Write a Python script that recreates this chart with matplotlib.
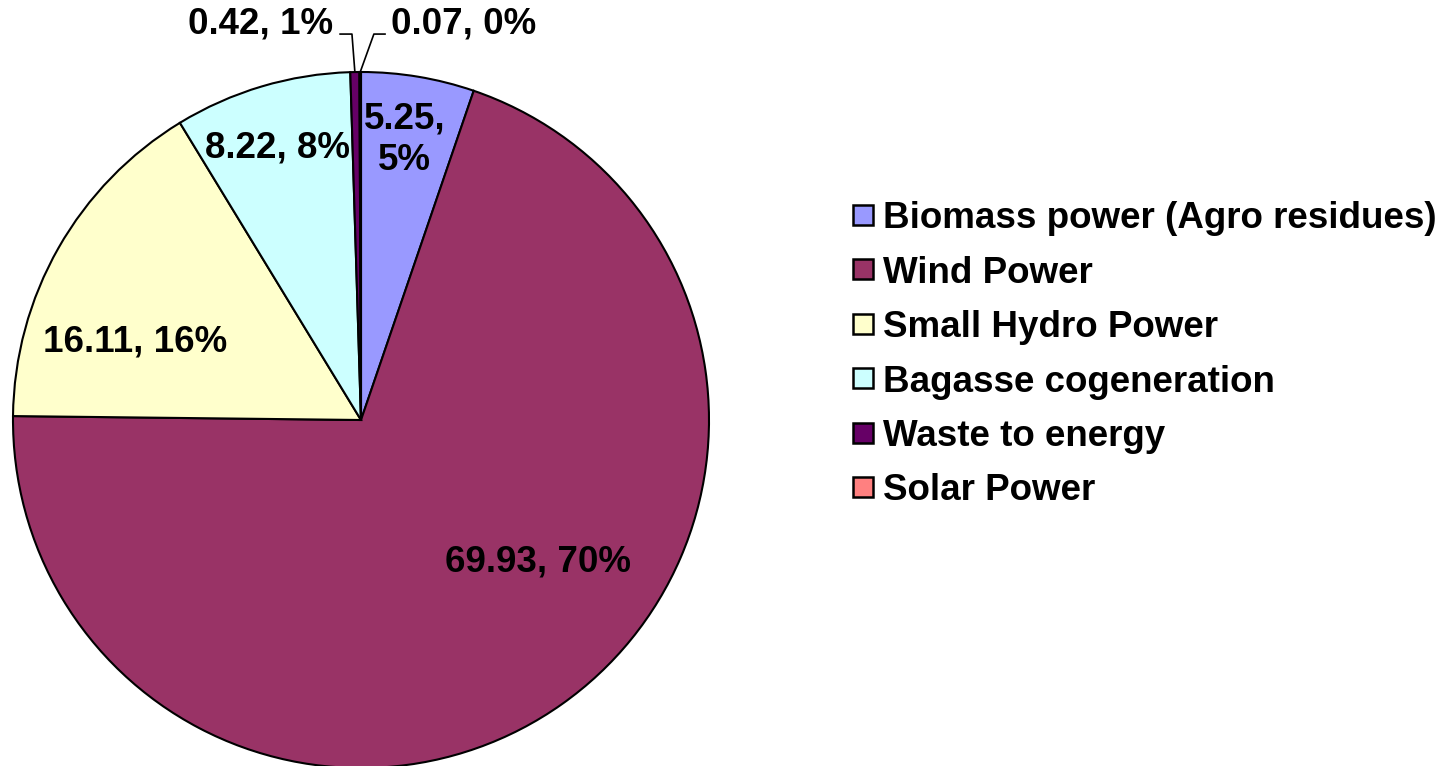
import numpy as np
import matplotlib
matplotlib.use("Agg")
import matplotlib.pyplot as plt
from matplotlib.patches import Rectangle

# data
labels = ["Biomass power (Agro residues)", "Wind Power", "Small Hydro Power",
          "Bagasse cogeneration", "Waste to energy", "Solar Power"]
values = [5.25, 69.93, 16.11, 8.22, 0.42, 0.07]
pct_text = ["5%", "70%", "16%", "8%", "1%", "0%"]
colors = ["#9999FF", "#993366", "#FFFFCC", "#CCFFFF", "#660066", "#FF8080"]

# label placement (pie radius = 1)
label_pos = [(0.126, 0.805), (0.509, -0.408), (-0.649, 0.224),
             (-0.241, 0.782), (-0.290, 1.138), (0.296, 1.138)]
# leader lines for the two tiny slices: (elbow, end)
leaders = {4: [(-0.026, 1.109), (-0.060, 1.109)],
           5: [(0.037, 1.109), (0.069, 1.109)]}

W, H = 1451, 766
FS = 26.5
plt.rcParams["font.family"] = ["Liberation Sans", "DejaVu Sans"]

fig = plt.figure(figsize=(W / 100, H / 100), dpi=100)
ax = fig.add_axes([13 / W, (H - 768) / H, 696 / W, 696 / H])
ax.axis("off")

wedges, _ = ax.pie(values, colors=colors, startangle=90, counterclock=False,
                   radius=1, wedgeprops=dict(edgecolor="black", linewidth=1.5))
ax.set_xlim(-1, 1)
ax.set_ylim(-1, 1)
ax.set_aspect("auto")

for i, w in enumerate(wedges):
    txt = f"{values[i]:.2f}, {pct_text[i]}"
    if i == 0:
        txt = f"{values[i]:.2f},\n{pct_text[i]}"
    x, y = label_pos[i]
    ax.text(x, y, txt, ha="center", va="center", fontsize=FS,
            fontweight="bold", linespacing=1.25, clip_on=False)
    if i in leaders:
        mid = np.deg2rad((w.theta1 + w.theta2) / 2)
        pts = [(np.cos(mid), np.sin(mid))] + leaders[i]
        xs, ys = zip(*pts)
        ax.plot(xs, ys, color="black", linewidth=1.2, clip_on=False)

# legend drawn by hand
row0, step = 215, 54.4
for i, lab in enumerate(labels):
    yc = row0 + i * step
    fig.add_artist(Rectangle((853 / W, 1 - (yc + 10) / H), 20 / W, 20 / H,
                             facecolor=colors[i], edgecolor="black",
                             linewidth=1.8, transform=fig.transFigure))
    fig.text(883 / W, 1 - yc / H, lab, ha="left", va="center_baseline",
             fontsize=FS, fontweight="bold")

fig.savefig("out.png", dpi=100)
